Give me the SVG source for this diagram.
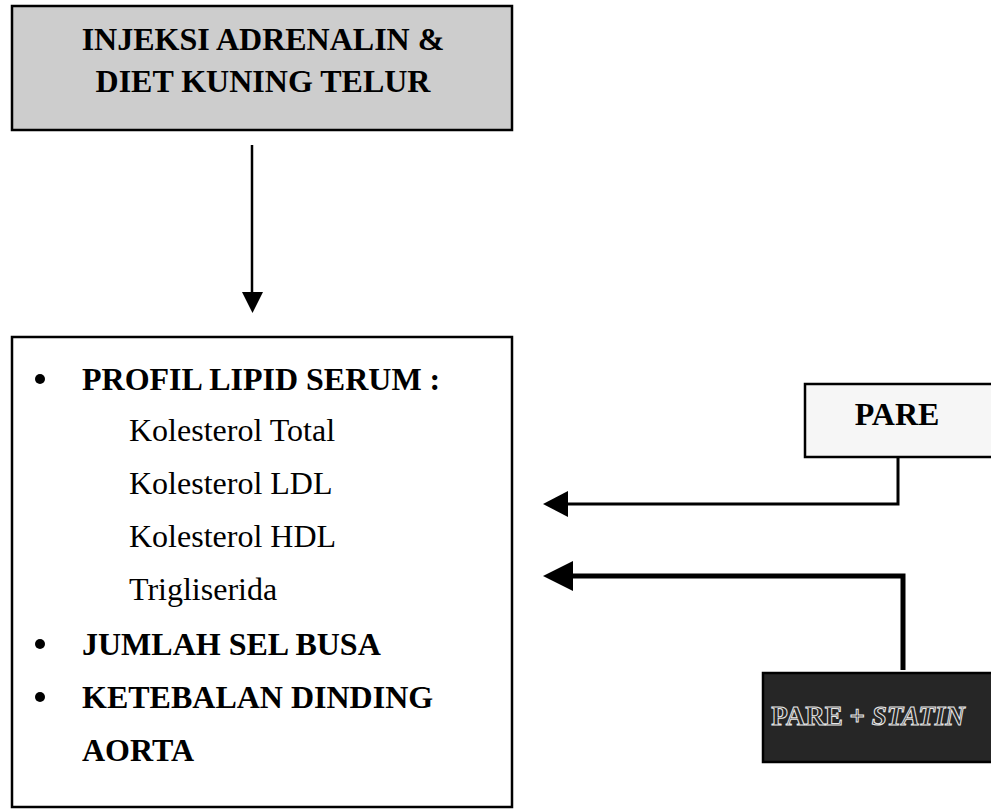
<svg xmlns="http://www.w3.org/2000/svg" width="991" height="809" viewBox="0 0 991 809">
<style>
.t{font-family:"Liberation Serif","Times New Roman",serif;font-size:32px;fill:#000}
.b{font-weight:bold}
.box{stroke:#000;stroke-width:2.5}
</style>
<defs>
<filter id="speck" x="0" y="0" width="100%" height="100%">
<feTurbulence type="fractalNoise" baseFrequency="0.9" numOctaves="1" seed="3" result="n"/>
<feColorMatrix in="n" type="matrix" values="0 0 0 0 0  0 0 0 0 0  0 0 0 0 0  0 0 0 -2.2 1.25" result="a"/>
<feComposite in="SourceGraphic" in2="a" operator="in"/>
</filter>
</defs>
<rect width="991" height="809" fill="#fff"/>
<g id="node-injeksi">
<rect x="12" y="6" width="500" height="124" fill="#cdcdcd" class="box"/>
<text class="t b" x="263" y="50" text-anchor="middle">INJEKSI ADRENALIN &amp;</text>
<text class="t b" x="263" y="92" text-anchor="middle">DIET KUNING TELUR</text>
</g>
<g id="node-hasil">
<rect x="12" y="337" width="500" height="470" fill="#fff" class="box"/>
<circle cx="40" cy="379" r="5"/>
<text class="t b" x="82" y="390">PROFIL LIPID SERUM :</text>
<text class="t" x="129" y="441">Kolesterol Total</text>
<text class="t" x="129" y="494">Kolesterol LDL</text>
<text class="t" x="129" y="547">Kolesterol HDL</text>
<text class="t" x="129" y="600">Trigliserida</text>
<circle cx="40" cy="644" r="5"/>
<text class="t b" x="82" y="655">JUMLAH SEL BUSA</text>
<circle cx="40" cy="697" r="5"/>
<text class="t b" x="82" y="708">KETEBALAN DINDING</text>
<text class="t b" x="82" y="761">AORTA</text>
</g>
<g id="node-pare">
<rect x="805" y="384" width="190" height="73" fill="#f6f6f6" class="box"/>
<text class="t b" x="897" y="425" text-anchor="middle">PARE</text>
</g>
<g id="node-pare-statin">
<rect x="763" y="673" width="232" height="89" fill="#262626" class="box"/>
<text class="t b" x="868" y="725" text-anchor="middle" style="font-size:27px;fill:#262626;stroke:#e8e8e8;stroke-width:1">PARE + <tspan font-style="italic">STATIN</tspan></text>
</g>
<g id="connectors">
<line x1="252" y1="145" x2="252" y2="294" stroke="#000" stroke-width="2.5"/>
<polygon points="242,292 263,292 252.5,313" fill="#000"/>
<polyline points="898,457 898,504 566,504" fill="none" stroke="#000" stroke-width="3"/>
<polygon points="568,491 568,517 543,504" fill="#000"/>
<polyline points="903,670 903,576 571,576" fill="none" stroke="#000" stroke-width="5"/>
<polygon points="573,561 573,591 543,576" fill="#000"/>
</g>
</svg>
